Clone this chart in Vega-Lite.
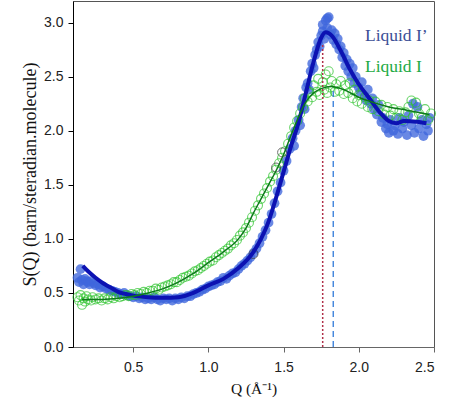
{
  "$schema": "https://vega.github.io/schema/vega-lite/v6.json",
  "width": 361,
  "height": 346,
  "autosize": {"type": "none"},
  "padding": {"left": 73, "top": 1, "right": 16, "bottom": 55},
  "background": "white",
  "config": {
    "view": {"stroke": "#555", "strokeWidth": 1},
    "axis": {
      "grid": false,
      "labelFont": "Liberation Sans",
      "labelFontSize": 14,
      "labelColor": "#222",
      "titleFont": "Liberation Serif",
      "titleFontWeight": "normal",
      "titleFontSize": 16,
      "titleColor": "#111",
      "tickSize": 5,
      "domainColor": "#333",
      "tickColor": "#333"
    }
  },
  "datasets": {
    "blue": [
      {"q":0.13,"s":0.64},{"q":0.14,"s":0.60},{"q":0.15,"s":0.72},{"q":0.16,"s":0.62},{"q":0.17,"s":0.58},{"q":0.18,"s":0.63},{"q":0.19,"s":0.61},{"q":0.20,"s":0.60},{"q":0.21,"s":0.58},{"q":0.22,"s":0.61},{"q":0.24,"s":0.59},{"q":0.25,"s":0.57},{"q":0.27,"s":0.58},{"q":0.28,"s":0.55},{"q":0.30,"s":0.56},{"q":0.32,"s":0.54},{"q":0.34,"s":0.53},{"q":0.36,"s":0.52},{"q":0.38,"s":0.51},{"q":0.40,"s":0.50},{"q":0.42,"s":0.49},{"q":0.44,"s":0.50},{"q":0.46,"s":0.48},{"q":0.48,"s":0.47},{"q":0.50,"s":0.46},{"q":0.52,"s":0.47},{"q":0.54,"s":0.45},{"q":0.56,"s":0.46},{"q":0.58,"s":0.44},{"q":0.60,"s":0.45},{"q":0.62,"s":0.44},{"q":0.64,"s":0.46},{"q":0.66,"s":0.44},{"q":0.68,"s":0.43},{"q":0.70,"s":0.45},{"q":0.72,"s":0.44},{"q":0.74,"s":0.45},{"q":0.76,"s":0.43},{"q":0.78,"s":0.45},{"q":0.80,"s":0.44},{"q":0.82,"s":0.46},{"q":0.84,"s":0.45},{"q":0.86,"s":0.47},{"q":0.88,"s":0.47},{"q":0.90,"s":0.49},{"q":0.92,"s":0.50},{"q":0.94,"s":0.51},{"q":0.96,"s":0.53},{"q":0.98,"s":0.54},{"q":1.00,"s":0.56},{"q":1.02,"s":0.57},{"q":1.04,"s":0.58},{"q":1.06,"s":0.60},{"q":1.08,"s":0.61},{"q":1.10,"s":0.64},{"q":1.12,"s":0.63},{"q":1.14,"s":0.66},{"q":1.16,"s":0.68},{"q":1.18,"s":0.69},{"q":1.20,"s":0.72},{"q":1.22,"s":0.75},{"q":1.24,"s":0.77},{"q":1.26,"s":0.80},{"q":1.28,"s":0.83},{"q":1.30,"s":0.87},{"q":1.32,"s":0.91},{"q":1.34,"s":0.96},{"q":1.36,"s":1.02},{"q":1.38,"s":1.08},{"q":1.40,"s":1.15},{"q":1.42,"s":1.23},{"q":1.44,"s":1.33},{"q":1.46,"s":1.44},{"q":1.48,"s":1.52},{"q":1.50,"s":1.63},{"q":1.52,"s":1.72},{"q":1.54,"s":1.83},{"q":1.56,"s":1.93},{"q":1.57,"s":1.86},{"q":1.58,"s":2.00},{"q":1.60,"s":2.10},{"q":1.61,"s":2.05},{"q":1.62,"s":2.22},{"q":1.63,"s":2.30},{"q":1.64,"s":2.20},{"q":1.65,"s":2.40},{"q":1.66,"s":2.44},{"q":1.67,"s":2.38},{"q":1.68,"s":2.55},{"q":1.69,"s":2.62},{"q":1.70,"s":2.58},{"q":1.71,"s":2.70},{"q":1.72,"s":2.75},{"q":1.73,"s":2.82},{"q":1.74,"s":2.78},{"q":1.75,"s":2.88},{"q":1.76,"s":2.92},{"q":1.76,"s":2.98},{"q":1.77,"s":2.85},{"q":1.78,"s":3.02},{"q":1.79,"s":2.95},{"q":1.79,"s":3.04},{"q":1.80,"s":3.05},{"q":1.81,"s":2.89},{"q":1.82,"s":2.93},{"q":1.83,"s":2.84},{"q":1.84,"s":2.90},{"q":1.85,"s":2.80},{"q":1.86,"s":2.85},{"q":1.87,"s":2.75},{"q":1.88,"s":2.78},{"q":1.89,"s":2.68},{"q":1.90,"s":2.72},{"q":1.91,"s":2.60},{"q":1.92,"s":2.66},{"q":1.93,"s":2.55},{"q":1.94,"s":2.62},{"q":1.95,"s":2.50},{"q":1.96,"s":2.58},{"q":1.97,"s":2.44},{"q":1.98,"s":2.50},{"q":2.00,"s":2.40},{"q":2.01,"s":2.36},{"q":2.02,"s":2.45},{"q":2.04,"s":2.32},{"q":2.05,"s":2.28},{"q":2.06,"s":2.38},{"q":2.08,"s":2.25},{"q":2.09,"s":2.30},{"q":2.10,"s":2.20},{"q":2.12,"s":2.15},{"q":2.13,"s":2.24},{"q":2.15,"s":2.08},{"q":2.16,"s":2.12},{"q":2.18,"s":2.02},{"q":2.19,"s":2.06},{"q":2.20,"s":1.98},{"q":2.21,"s":2.10},{"q":2.23,"s":2.00},{"q":2.24,"s":2.05},{"q":2.26,"s":1.97},{"q":2.27,"s":2.12},{"q":2.29,"s":2.02},{"q":2.30,"s":2.08},{"q":2.32,"s":1.96},{"q":2.33,"s":2.14},{"q":2.35,"s":2.05},{"q":2.36,"s":2.25},{"q":2.37,"s":1.98},{"q":2.39,"s":2.22},{"q":2.40,"s":2.02},{"q":2.42,"s":2.10},{"q":2.43,"s":1.95},{"q":2.45,"s":2.06},{"q":2.46,"s":2.00},{"q":2.47,"s":2.12}
    ],
    "green": [
      {"q":0.13,"s":0.46},{"q":0.14,"s":0.43},{"q":0.15,"s":0.48},{"q":0.16,"s":0.39},{"q":0.17,"s":0.45},{"q":0.18,"s":0.42},{"q":0.19,"s":0.47},{"q":0.20,"s":0.44},{"q":0.22,"s":0.43},{"q":0.23,"s":0.46},{"q":0.25,"s":0.44},{"q":0.27,"s":0.45},{"q":0.29,"s":0.43},{"q":0.31,"s":0.45},{"q":0.33,"s":0.44},{"q":0.35,"s":0.46},{"q":0.37,"s":0.45},{"q":0.39,"s":0.47},{"q":0.41,"s":0.46},{"q":0.43,"s":0.47},{"q":0.45,"s":0.48},{"q":0.47,"s":0.47},{"q":0.49,"s":0.49},{"q":0.51,"s":0.48},{"q":0.53,"s":0.50},{"q":0.55,"s":0.49},{"q":0.57,"s":0.51},{"q":0.59,"s":0.50},{"q":0.61,"s":0.52},{"q":0.63,"s":0.52},{"q":0.65,"s":0.54},{"q":0.67,"s":0.53},{"q":0.69,"s":0.55},{"q":0.71,"s":0.56},{"q":0.73,"s":0.57},{"q":0.75,"s":0.58},{"q":0.77,"s":0.60},{"q":0.79,"s":0.60},{"q":0.81,"s":0.62},{"q":0.83,"s":0.64},{"q":0.85,"s":0.65},{"q":0.87,"s":0.66},{"q":0.89,"s":0.68},{"q":0.91,"s":0.70},{"q":0.93,"s":0.71},{"q":0.95,"s":0.73},{"q":0.97,"s":0.75},{"q":0.99,"s":0.77},{"q":1.01,"s":0.79},{"q":1.03,"s":0.80},{"q":1.05,"s":0.83},{"q":1.07,"s":0.85},{"q":1.09,"s":0.87},{"q":1.11,"s":0.89},{"q":1.13,"s":0.91},{"q":1.15,"s":0.94},{"q":1.17,"s":0.96},{"q":1.19,"s":0.99},{"q":1.21,"s":1.03},{"q":1.23,"s":1.06},{"q":1.25,"s":1.10},{"q":1.27,"s":1.15},{"q":1.29,"s":1.20},{"q":1.31,"s":1.26},{"q":1.33,"s":1.31},{"q":1.35,"s":1.37},{"q":1.37,"s":1.42},{"q":1.39,"s":1.47},{"q":1.41,"s":1.53},{"q":1.43,"s":1.58},{"q":1.45,"s":1.64},{"q":1.47,"s":1.70},{"q":1.49,"s":1.75},{"q":1.51,"s":1.81},{"q":1.53,"s":1.88},{"q":1.55,"s":1.95},{"q":1.57,"s":2.03},{"q":1.59,"s":2.09},{"q":1.61,"s":2.16},{"q":1.63,"s":2.22},{"q":1.64,"s":2.30},{"q":1.66,"s":2.27},{"q":1.67,"s":2.36},{"q":1.69,"s":2.31},{"q":1.70,"s":2.42},{"q":1.72,"s":2.36},{"q":1.73,"s":2.48},{"q":1.74,"s":2.33},{"q":1.76,"s":2.45},{"q":1.77,"s":2.38},{"q":1.78,"s":2.52},{"q":1.79,"s":2.35},{"q":1.80,"s":2.55},{"q":1.81,"s":2.40},{"q":1.82,"s":2.46},{"q":1.84,"s":2.36},{"q":1.85,"s":2.43},{"q":1.87,"s":2.37},{"q":1.88,"s":2.46},{"q":1.90,"s":2.34},{"q":1.91,"s":2.42},{"q":1.93,"s":2.35},{"q":1.94,"s":2.44},{"q":1.96,"s":2.30},{"q":1.97,"s":2.38},{"q":1.99,"s":2.27},{"q":2.00,"s":2.33},{"q":2.02,"s":2.25},{"q":2.04,"s":2.31},{"q":2.06,"s":2.22},{"q":2.07,"s":2.28},{"q":2.09,"s":2.20},{"q":2.11,"s":2.27},{"q":2.13,"s":2.18},{"q":2.15,"s":2.24},{"q":2.17,"s":2.15},{"q":2.19,"s":2.22},{"q":2.21,"s":2.14},{"q":2.23,"s":2.20},{"q":2.25,"s":2.12},{"q":2.27,"s":2.18},{"q":2.29,"s":2.10},{"q":2.31,"s":2.17},{"q":2.33,"s":2.22},{"q":2.35,"s":2.28},{"q":2.36,"s":2.13},{"q":2.38,"s":2.26},{"q":2.40,"s":2.16},{"q":2.42,"s":2.12},{"q":2.44,"s":2.20},{"q":2.46,"s":2.10},{"q":2.48,"s":2.16}
    ],
    "blackPts": [
      {"q":1.30,"s":0.86},{"q":1.45,"s":1.66},{"q":1.49,"s":1.80}
    ],
    "blueFit": [
      {"q":0.165,"s":0.75},{"q":0.2,"s":0.70},{"q":0.25,"s":0.64},{"q":0.3,"s":0.59},{"q":0.35,"s":0.55},{"q":0.4,"s":0.51},{"q":0.45,"s":0.49},{"q":0.5,"s":0.475},{"q":0.6,"s":0.46},{"q":0.7,"s":0.455},{"q":0.8,"s":0.46},{"q":0.9,"s":0.50},{"q":1.0,"s":0.57},{"q":1.1,"s":0.63},{"q":1.2,"s":0.73},{"q":1.3,"s":0.88},{"q":1.35,"s":1.00},{"q":1.4,"s":1.16},{"q":1.45,"s":1.38},{"q":1.5,"s":1.62},{"q":1.55,"s":1.86},{"q":1.6,"s":2.08},{"q":1.65,"s":2.36},{"q":1.7,"s":2.64},{"q":1.75,"s":2.86},{"q":1.78,"s":2.91},{"q":1.82,"s":2.88},{"q":1.88,"s":2.74},{"q":1.94,"s":2.57},{"q":2.0,"s":2.43},{"q":2.07,"s":2.30},{"q":2.14,"s":2.17},{"q":2.2,"s":2.09},{"q":2.25,"s":2.07},{"q":2.3,"s":2.09},{"q":2.4,"s":2.08},{"q":2.45,"s":2.07}
    ],
    "greenFit": [
      {"q":0.16,"s":0.44},{"q":0.3,"s":0.44},{"q":0.4,"s":0.45},{"q":0.5,"s":0.47},{"q":0.6,"s":0.50},{"q":0.7,"s":0.54},{"q":0.8,"s":0.60},{"q":0.9,"s":0.68},{"q":1.0,"s":0.78},{"q":1.1,"s":0.88},{"q":1.2,"s":1.00},{"q":1.25,"s":1.10},{"q":1.3,"s":1.24},{"q":1.35,"s":1.37},{"q":1.4,"s":1.50},{"q":1.45,"s":1.63},{"q":1.5,"s":1.78},{"q":1.55,"s":1.96},{"q":1.6,"s":2.13},{"q":1.65,"s":2.27},{"q":1.7,"s":2.35},{"q":1.75,"s":2.39},{"q":1.82,"s":2.41},{"q":1.9,"s":2.38},{"q":2.0,"s":2.31},{"q":2.1,"s":2.26},{"q":2.2,"s":2.22},{"q":2.32,"s":2.19},{"q":2.47,"s":2.15}
    ]
  },
  "layer": [
    {
      "data": {"name": "blue"},
      "mark": {"type": "point", "shape": "circle", "filled": true, "fill": "#3f66dd", "fillOpacity": 0.78, "strokeWidth": 0, "size": 95},
      "encoding": {
        "x": {"field": "q", "type": "quantitative", "scale": {"domain": [0.1, 2.5], "nice": false, "zero": false}, "axis": {"values": [0.5, 1.0, 1.5, 2.0, 2.5], "format": ".1f", "title": "Q (Å⁻¹)", "titleFontSize": 15.5, "labelPadding": 8, "titlePadding": 7, "domainColor": "#666", "tickColor": "#666"}},
        "y": {"field": "s", "type": "quantitative", "scale": {"domain": [0, 3.2], "nice": false}, "axis": {"values": [0, 0.5, 1.0, 1.5, 2.0, 2.5, 3.0], "format": ".1f", "title": "S(Q) (barn/steradian.molecule)", "titleFontSize": 18, "labelPadding": 5, "titlePadding": 4, "domainColor": "#000", "tickColor": "#000"}}
      }
    },
    {
      "data": {"name": "green"},
      "mark": {"type": "point", "shape": "circle", "filled": false, "stroke": "#2ec42e", "strokeWidth": 1.1, "size": 80},
      "encoding": {
        "x": {"field": "q", "type": "quantitative"},
        "y": {"field": "s", "type": "quantitative"}
      }
    },
    {
      "data": {"name": "blackPts"},
      "mark": {"type": "point", "shape": "circle", "filled": false, "stroke": "#333", "strokeWidth": 1, "size": 80},
      "encoding": {
        "x": {"field": "q", "type": "quantitative"},
        "y": {"field": "s", "type": "quantitative"}
      }
    },
    {
      "data": {"name": "blueFit"},
      "mark": {"type": "line", "interpolate": "monotone", "color": "#0c12b2", "strokeWidth": 4},
      "encoding": {
        "x": {"field": "q", "type": "quantitative"},
        "y": {"field": "s", "type": "quantitative"}
      }
    },
    {
      "data": {"name": "greenFit"},
      "mark": {"type": "line", "interpolate": "monotone", "color": "#0d7a1a", "strokeWidth": 1.5},
      "encoding": {
        "x": {"field": "q", "type": "quantitative"},
        "y": {"field": "s", "type": "quantitative"}
      }
    },
    {
      "data": {"values": [{"q": 1.76, "s0": 0, "s1": 2.8}]},
      "mark": {"type": "rule", "color": "#b0304a", "strokeWidth": 1.5, "strokeDash": [2, 2]},
      "encoding": {
        "x": {"field": "q", "type": "quantitative"},
        "y": {"field": "s0", "type": "quantitative"},
        "y2": {"field": "s1"}
      }
    },
    {
      "data": {"values": [{"q": 1.83, "s0": 0, "s1": 2.38}]},
      "mark": {"type": "rule", "color": "#1f6fd6", "strokeWidth": 1.2, "strokeDash": [6, 4]},
      "encoding": {
        "x": {"field": "q", "type": "quantitative"},
        "y": {"field": "s0", "type": "quantitative"},
        "y2": {"field": "s1"}
      }
    },
    {
      "data": {"values": [{"q": 2.041, "s": 2.83, "label": "Liquid I’"}]},
      "mark": {"type": "text", "align": "left", "baseline": "alphabetic", "font": "Liberation Serif", "fontSize": 17.5, "color": "#3b4e96"},
      "encoding": {
        "x": {"field": "q", "type": "quantitative"},
        "y": {"field": "s", "type": "quantitative"},
        "text": {"field": "label"}
      }
    },
    {
      "data": {"values": [{"q": 2.041, "s": 2.54, "label": "Liquid I"}]},
      "mark": {"type": "text", "align": "left", "baseline": "alphabetic", "font": "Liberation Serif", "fontSize": 17.5, "color": "#22aa44"},
      "encoding": {
        "x": {"field": "q", "type": "quantitative"},
        "y": {"field": "s", "type": "quantitative"},
        "text": {"field": "label"}
      }
    }
  ]
}
